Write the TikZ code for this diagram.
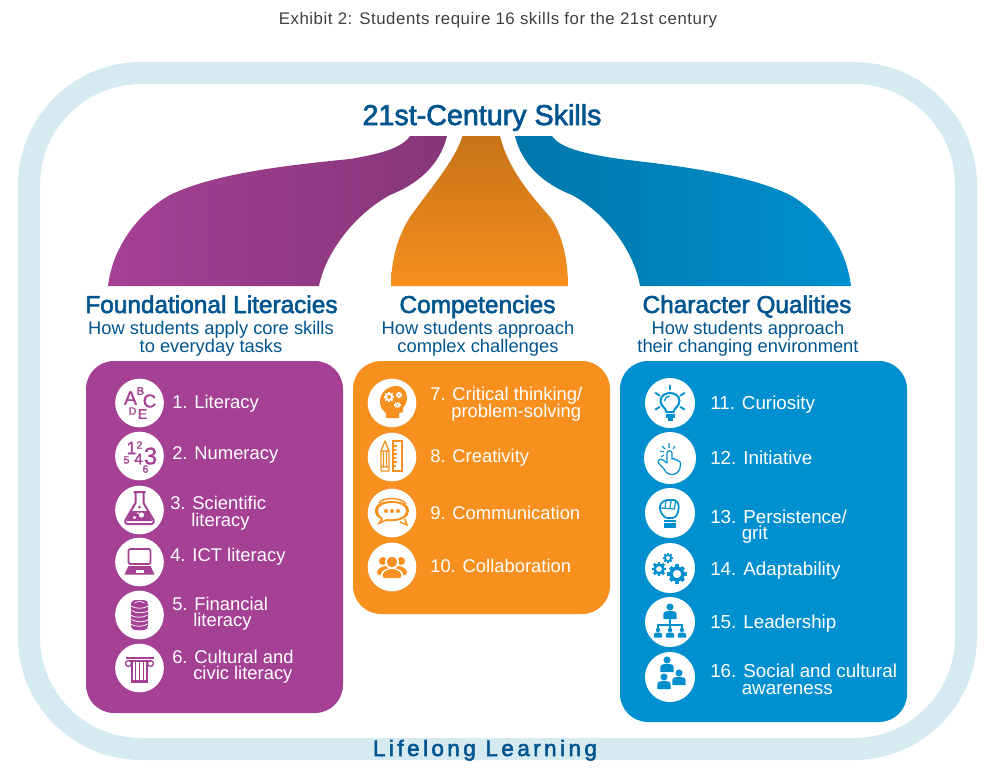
\documentclass[tikz,border=0pt]{standalone}
\usepackage{fontspec}
\setmainfont{Liberation Sans}
\newfontfamily\medfont{Liberation Sans}[RawFeature={embolden=2.4}]
\newfontfamily\icofont{Liberation Sans}[RawFeature={embolden=1.2}]
\definecolor{ringc}{HTML}{D5EAF1}
\definecolor{navy}{HTML}{00558F}
\definecolor{purp}{HTML}{A44194}
\definecolor{oran}{HTML}{F7901E}
\definecolor{blu}{HTML}{0090CF}
\definecolor{headc}{HTML}{3F3F3F}
\newcommand{\fs}[1]{\fontsize{#1}{#1}\selectfont}
\tikzset{
 x=.75pt,y=-.75pt,
 ttl/.style={text=navy,font=\medfont\fs{18.3},anchor=base,inner sep=0},
 sub/.style={text=navy,font=\fs{13.75},anchor=base,inner sep=0},
 lab/.style={text=white,font=\fs{13.8},anchor=base west,inner sep=0},
 labb/.style={text=white,font=\fs{14.1},anchor=base west,inner sep=0},
 ic/.style={circle,fill=white,inner sep=0,minimum size=36.5pt},
 icb/.style={circle,fill=white,inner sep=0,minimum size=37.5pt},
 panel/.style={rounded corners=21pt,inner sep=0},
 ico/.style={inner sep=0,font=\icofont\fs{#1},anchor=center},
}
\newcommand{\gear}[4]{% x y r col
 \foreach \a in {0,45,...,315}
  \draw[#4,line width=.32*#3] ({#1+#3*.7*cos(\a)},{#2+#3*.7*sin(\a)}) -- ({#1+#3*1.12*cos(\a)},{#2+#3*1.12*sin(\a)});
 \draw[#4,line width=.3*#3] (#1,#2) circle[radius=#3*.68];}
\newcommand{\person}[4]{% x y scale col
 \fill[#4] (#1,#2) circle[radius=3.2*#3];
 \fill[#4] (#1-6*#3,#2+11*#3) -- (#1-6*#3,#2+6.5*#3) .. controls (#1-6*#3,#2+4*#3) and (#1-3*#3,#2+3.6*#3) .. (#1,#2+3.6*#3) .. controls (#1+3*#3,#2+3.6*#3) and (#1+6*#3,#2+4*#3) .. (#1+6*#3,#2+6.5*#3) -- (#1+6*#3,#2+11*#3) -- cycle;}
\begin{document}
\begin{tikzpicture}
\useasboundingbox (0,0) rectangle (997,775);
% ring
\node[inner sep=0] (hdr) at (498,24) [anchor=base,text=headc,font=\fs{12.6}] {\addfontfeatures{LetterSpace=3.3}Exhibit 2: Students require 16 skills for the 21st century};
\draw[ringc,line width=16.5pt,rounded corners=84pt] (29,73) rectangle (966,749);
\node[text=navy,font=\medfont\fs{16.8},anchor=base,inner sep=0] (ll) at (485,756) {\addfontfeatures{LetterSpace=15.5}Lifelong Learning};
\node[ttl,font=\medfont\fs{21.5}] (main) at (482,125) {21st-Century Skills};
% funnels
\path[left color=purp,right color=purp!82!black] (447,136) .. controls (440,165) and (418,184) .. (390,195)
 .. controls (352,216) and (325,255) .. (319,286) -- (108,286)
 .. controls (113,245) and (140,212) .. (170,195) .. controls (215,173) and (290,165) .. (350,159)
 .. controls (380,154) and (402,148) .. (410,136) -- cycle;
\path[top color=oran!80!black,bottom color=oran] (462.5,136) -- (500,136)
 .. controls (508,168) and (528,192) .. (550,217) .. controls (563,235) and (568,262) .. (568,286) -- (391,286)
 .. controls (391,262) and (397,237) .. (410,217) .. controls (433,185) and (455,160) .. (462.5,136) -- cycle;
\path[right color=blu,left color=blu!82!black] (515,136) .. controls (522,165) and (544,184) .. (572,195)
 .. controls (610,216) and (635,255) .. (640,286) -- (851,286)
 .. controls (846,245) and (820,212) .. (790,195) .. controls (745,173) and (670,165) .. (620,159)
 .. controls (585,154) and (560,148) .. (552,136) -- cycle;
% headings
\node[ttl] (t1) at (211.5,313) {Foundational Literacies};
\node[sub] (s1a) at (211,334) {How students apply core skills};
\node[sub] (s1b) at (211,352) {to everyday tasks};
\node[ttl] (t2) at (477.5,313) {Competencies};
\node[sub] (s2a) at (478,334) {How students approach};
\node[sub] (s2b) at (478,352) {complex challenges};
\node[ttl] (t3) at (747,313) {Character Qualities};
\node[sub] (s3a) at (748,334) {How students approach};
\node[sub] (s3b) at (748,352) {their changing environment};
% panels
\fill[purp,panel] (86,361) rectangle (343,713);
\fill[oran,panel] (353,361) rectangle (610,614);
\fill[blu,panel] (620,361) rectangle (907,722);
% circles
\foreach \n/\x/\y in {c1/139.5/403,c2/139.5/456,c3/139.5/510,c4/139.5/562,c5/139.5/615,c6/139.5/668,c7/392/403,c8/392/457,c9/392/513,c10/392/567}
 \node[ic] (\n) at (\x,\y) {};
\foreach \n/\x/\y in {c11/670/403,c13/670/513,c14/670/568,c15/670/622,c16/670/677}
 \node[icb] (\n) at (\x,\y) {};
\node[ic,minimum size=39pt] (c12) at (670,458) {};
% labels purple
\node[lab] (l1) at (172,408) {1. Literacy};
\node[lab] (l2) at (172,459) {2. Numeracy};
\node[lab] (l3) at (170,509) {3. Scientific};
\node[lab] (l3b) at (191,526) {literacy};
\node[lab] (l4) at (170,561) {4. ICT literacy};
\node[lab] (l5) at (172,610) {5. Financial};
\node[lab] (l5b) at (193,626) {literacy};
\node[lab] (l6) at (172,663) {6. Cultural and};
\node[lab] (l6b) at (193,679) {civic literacy};
% labels orange
\node[lab] (l7) at (430,400) {7. Critical thinking/};
\node[lab] (l7b) at (451,417) {problem-solving};
\node[lab] (l8) at (430,462) {8. Creativity};
\node[lab] (l9) at (430,519) {9. Communication};
\node[lab] (l10) at (430,572) {10. Collaboration};
% labels blue
\node[labb] (l11) at (710,409) {11. Curiosity};
\node[labb] (l12) at (710,464) {12. Initiative};
\node[labb] (l13) at (710,523) {13. Persistence/};
\node[labb] (l13b) at (741.5,539) {grit};
\node[labb] (l14) at (710,575) {14. Adaptability};
\node[labb] (l15) at (710,628.5) {15. Leadership};
\node[labb] (l16) at (710,677) {16. Social and cultural};
\node[labb] (l16b) at (741.5,694) {awareness};
% icon 1
\begin{scope}[shift={(c1.center)},text=purp]
\node[ico=14.5] (a1) at (-9,-5) {A}; \node[ico=8.3] (a2) at (1,-12) {B}; \node[ico=14] (a3) at (10,-2) {C};
\node[ico=8] (a4) at (-7,8) {D}; \node[ico=10.5] (a5) at (3,11) {E};
\end{scope}
% icon 2
\begin{scope}[shift={(c2.center)},text=purp]
\node[ico=13.5] (b1) at (-8,-8) {1}; \node[ico=8] (b2) at (0,-11) {2}; \node[ico=18] (b3) at (11,0) {3};
\node[ico=11.5] (b4) at (-1,3) {4}; \node[ico=8] (b5) at (-13,4) {5}; \node[ico=8] (b6) at (6,13) {6};
\end{scope}
% icon 3 flask
\begin{scope}[shift={(c3.center)}]
\fill[purp] (-8.5,1) -- (8.5,1) -- (13,11) -- (-13,11) -- cycle;
\draw[purp,line width=1.5pt,line join=round] (-6,-18) -- (6,-18) (-4,-18) -- (-4,-7) -- (-14,10) .. controls (-15,12) and (-14,14) .. (-12,14) -- (12,14) .. controls (14,14) and (15,12) .. (14,10) -- (4,-7) -- (4,-18);
\fill[white] (2,5) circle[radius=2.6] (-5,7.5) circle[radius=1.6] (-1.5,3) circle[radius=1];
\fill[purp] (0,-3) circle[radius=1.5];
\end{scope}
% icon 4 laptop
\begin{scope}[shift={(c4.center)}]
\draw[purp,line width=1.4pt,rounded corners=1pt] (-11,-13) rectangle (11,2);
\fill[purp] (-11,4) -- (11,4) -- (15,12.5) -- (-15,12.5) -- cycle;
\fill[white] (-4,8) rectangle (4,10.5);
\end{scope}
% icon 5 coins
\begin{scope}[shift={(c5.center)}]
\fill[purp,rounded corners=3pt] (-8.5,-15) rectangle (8.5,15);
\foreach \yy/\dx in {-9/0,-4.5/.8,0/-.6,4.5/.6,9/-.4}
 \draw[white,line width=.55pt] (-8.5+\dx,\yy) .. controls (-5+\dx,\yy+3) and (5+\dx,\yy+3) .. (8.5+\dx,\yy);
\draw[white,line width=.5pt] (-5,-12) .. controls (-2,-14) and (2,-14) .. (5,-12);
\end{scope}
% icon 6 column
\begin{scope}[shift={(c6.center)}]
\fill[purp] (-14,-11) rectangle (14,-8.8);
\draw[purp,line width=1pt] (-11,-4.5) circle[radius=3] (11,-4.5) circle[radius=3];
\fill[purp] (-11,-8.5) rectangle (11,-6);
\draw[purp,line width=.9pt] (-7.5,-6) -- (-7.5,12) (-3.8,-6) -- (-3.8,12) (0,-6) -- (0,12) (3.8,-6) -- (3.8,12) (7.5,-6) -- (7.5,12);
\fill[purp] (-8.5,12) rectangle (8.5,15);
\end{scope}
% icon 7 head
\begin{scope}[shift={(c7.center)}]
\fill[oran] (-6,15) -- (-6,10) .. controls (-9,8) and (-12,4) .. (-12,-1) -- (-12,-3) .. controls (-11,-12) and (-3,-17) .. (5,-17) .. controls (13,-16) and (15,-9) .. (15,-5) .. controls (15,0) and (13,2) .. (11,5) -- (11,9) -- (7,10) -- (7,15) -- cycle;
\gear{-3}{-6}{4.5}{white}
\gear{7}{-8}{2.8}{white}
\gear{5.5}{2}{2.8}{white}
\end{scope}
% icon 8 pencil ruler
\begin{scope}[shift={(c8.center)}]
\draw[oran,line width=1pt,line join=round] (-11,14) rectangle (-3,-6) (-11,-6) -- (-7,-16) -- (-3,-6) (-8.5,-6) -- (-8.5,10) (-5.5,-6) -- (-5.5,10) (-11,10) -- (-3,10);
\draw[oran,line width=1.1pt] (1,-16) rectangle (10,14);
\draw[oran,line width=.8pt] (1,-11) -- (5,-11) (1,-7) -- (4,-7) (1,-3) -- (5,-3) (1,1) -- (4,1) (1,5) -- (5,5) (1,9) -- (4,9);
\end{scope}
% icon 9 speech
\begin{scope}[shift={(c9.center)}]
\draw[oran,line width=1.1pt] (-13,-10) .. controls (-10,-16) and (10,-16) .. (14,-9);
\fill[oran] (-17,-2) .. controls (-17,-10) and (-8,-12) .. (0,-12) .. controls (9,-12) and (17,-9) .. (17,-2) .. controls (17,4) and (10,8) .. (0,8) -- (-6,8) -- (-15,12) -- (-11,6) .. controls (-15,4) and (-17,2) .. (-17,-2) -- cycle;
\fill[white] (-14,-2) .. controls (-14,-8) and (-6,-10) .. (0,-10) .. controls (8,-10) and (14,-7) .. (14,-2) .. controls (14,3) and (8,6) .. (0,6) -- (-6,6) -- (-10,8) -- (-9,5) .. controls (-12,3) and (-14,1) .. (-14,-2) -- cycle;
\fill[oran] (-6,-2) circle[radius=2] (0,-2) circle[radius=2] (6,-2) circle[radius=2];
\draw[oran,line width=1.1pt] (8,9) -- (15,12) -- (13,6);
\end{scope}
% icon 10 people
\begin{scope}[shift={(c10.center)}]
\fill[oran] (-9,-6) circle[radius=4] (9,-6) circle[radius=4];
\fill[oran,rounded corners=2pt] (-15,8) -- (-15,3) -- (-9,-1) -- (9,-1) -- (15,3) -- (15,8) -- cycle;
\fill[white] (0,-5) circle[radius=7];
\fill[white,rounded corners=2pt] (-11,12) -- (-11,5) -- (-4,1) -- (4,1) -- (11,5) -- (11,12) -- cycle;
\fill[oran] (0,-5) circle[radius=5.2];
\fill[oran,rounded corners=2pt] (-9.5,11) -- (-9.5,6) -- (-3,2) -- (3,2) -- (9.5,6) -- (9.5,11) -- cycle;
\end{scope}
% icon 11 bulb
\begin{scope}[shift={(c11.center)}]
\draw[blu,line width=1.5pt] (-3.5,9) .. controls (-4,5) and (-9.5,3) .. (-9.5,-2) .. controls (-9.5,-7) and (-5,-10) .. (0,-10) .. controls (5,-10) and (9.5,-7) .. (9.5,-2) .. controls (9.5,3) and (4,5) .. (3.5,9) -- cycle;
\fill[blu] (-4.5,10.5) rectangle (4.5,15);
\fill[blu] (-2.5,15) rectangle (2.5,17.5);
\draw[blu,line width=1.4pt,line cap=round] (0,-13.5) -- (0,-17.5) (-10.5,-7.5) -- (-14.5,-10) (10.5,-7.5) -- (14.5,-10) (-10.5,4) -- (-14.5,6.5) (10.5,4) -- (14.5,6.5);
\draw[blu,line width=1pt] (-5.5,-2) .. controls (-5.5,-5) and (-3,-7) .. (-.5,-7);
\end{scope}
% icon 12 hand
\begin{scope}[shift={(c12.center)}]
\draw[blu,line width=.9pt,line join=round] (-3,5) -- (-3,-5) .. controls (-3,-8) and (2,-8) .. (2,-5) -- (2,1) .. controls (4,0) and (5,.5) .. (5.5,2) .. controls (7,1) and (8,2) .. (8.2,3) .. controls (9.5,2.5) and (10.5,3.5) .. (10.5,6) -- (10,10) .. controls (9,14) and (6,16.5) .. (2,16.5) .. controls (-3,16.5) and (-5,13) .. (-6,11) -- (-11.5,5) .. controls (-13,2) and (-9,0) .. (-7,2) -- cycle;
\draw[blu,line width=.8pt] (-6,-6) -- (-10,-7) (-5,-9) -- (-8,-12) (-1,-10) -- (-1,-15) (3,-9) -- (5,-12) (-6,-3) -- (-9,-1);
\end{scope}
% icon 13 fist
\begin{scope}[shift={(c13.center)}]
\fill[blu] (-6,7) rectangle (6,15);
\draw[white,line width=.5pt] (-6,9.5) -- (6,9.5);
\draw[blu,line width=1.3pt,line join=round,rounded corners=2pt] (-10,-9) -- (-5,-13) -- (6,-13) -- (9,-8) -- (8,0) -- (5,5) -- (-5,5) -- (-10,-2) -- cycle;
\draw[blu,line width=.9pt] (-4,-12) -- (-5,-5) (1,-12) -- (0,-5) (5.5,-12) -- (4.5,-5) (-10,-5) -- (5,-4);
\end{scope}
% icon 14 gears
\begin{scope}[shift={(c14.center)}]
\gear{-11}{1}{6.5}{blu}
\gear{-2}{-10}{4.5}{blu}
\gear{7}{6}{8.5}{blu}
\end{scope}
% icon 15 org chart
\begin{scope}[shift={(c15.center)}]
\person{0}{-15}{1.1}{blu}
\draw[blu,line width=1.1pt] (0,-4) -- (0,3) (-12,9) -- (-12,3) -- (12,3) -- (12,9) (0,3) -- (0,9);
\person{-12}{8}{.7}{blu}
\person{0}{8}{.7}{blu}
\person{12}{8}{.7}{blu}
\end{scope}
% icon 16 people
\begin{scope}[shift={(c16.center)}]
\person{-3}{-17}{1.1}{blu}
\person{-6}{0}{1.1}{blu}
\person{9}{-4}{1.1}{blu}
\end{scope}
\end{tikzpicture}
\end{document}
